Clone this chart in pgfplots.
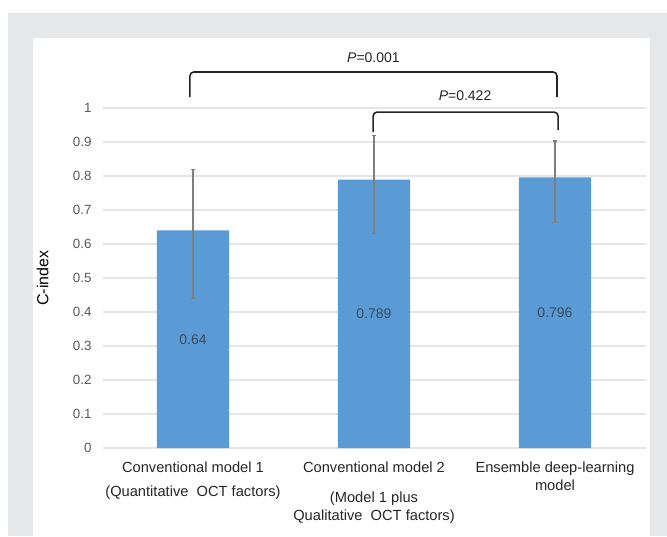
\documentclass[border=0pt]{standalone}
\usepackage{pgfplots}
\pgfplotsset{compat=1.18}
\usepackage{fontspec}
\setmainfont{Liberation Sans}
\definecolor{bggray}{HTML}{E6E7E8}
\definecolor{barblue}{HTML}{5B9BD5}
\definecolor{errgray}{HTML}{7F7F7F}
\definecolor{gridc}{HTML}{E6E6E6}
\definecolor{tickc}{HTML}{595959}
\definecolor{labc}{HTML}{262626}
\definecolor{vallab}{HTML}{3A4A5C}
\begin{document}
\begin{tikzpicture}
\useasboundingbox (0,0) rectangle (500.25pt,402pt);
\fill[white] (0,0) rectangle (500.25pt,402pt);
\fill[bggray] (6pt,0) rectangle (500.25pt,392.25pt);
\fill[white] (24.75pt,0) rectangle (487.5pt,373.5pt);
\begin{axis}[
  at={(76.875pt,66pt)}, anchor=south west,
  width=407.25pt, height=255pt, scale only axis,
  xmin=-0.5, xmax=2.5, ymin=0, ymax=1,
  clip=false,
  axis line style={draw=none},
  major tick length=0pt,
  ytick={0,0.1,0.2,0.3,0.4,0.5,0.6,0.7,0.8,0.9,1},
  yticklabels={0,0.1,0.2,0.3,0.4,0.5,0.6,0.7,0.8,0.9,1},
  ymajorgrids, grid style={gridc, line width=0.8pt},
  yticklabel style={font=\fontsize{10}{12}\selectfont, text=tickc, xshift=-4.75pt},
  xtick={0,1,2},
  xticklabels={{Conventional model 1\\[5pt](Quantitative\ \ OCT factors)},
               {Conventional model 2\\[9pt](Model 1 plus\\[0.5pt]Qualitative\ \ OCT factors)},
               {Ensemble deep-learning\\[0pt]model}},
  xticklabel style={font=\fontsize{11}{13.5}\selectfont, text=labc, align=center, yshift=-6.5pt},
  ylabel={C-index},
  ylabel style={at={(axis description cs:-0.11,0.5)}, anchor=center, font=\fontsize{12}{14}\selectfont, text=black},
]
\addplot[ybar, bar width=0.4, fill=barblue, draw=none,
  error bars/.cd, y dir=both, y explicit,
  error bar style={errgray, line width=1.1pt},
  error mark options={rotate=90, errgray, mark size=1.2pt, line width=0.8pt}]
  coordinates {
  (0,0.640) += (0,0.180) -= (0,0.200)
  (1,0.789) += (0,0.131) -= (0,0.157)
  (2,0.796) += (0,0.107) -= (0,0.134)
};
\addplot[ybar, bar width=0.4, draw=none, fill=none, forget plot,
  visualization depends on={y \as \rawy},
  nodes near coords={\pgfmathprintnumber[precision=3, assume math mode=true]{\pgfplotspointmeta}},
  every node near coord/.append style={anchor=center, yshift=-\rawy*127.5pt, font=\fontsize{10.5}{12}\selectfont, text=vallab}]
  coordinates {(0,0.640) (1,0.789) (2,0.796)};
\draw[black!85, line width=1.2pt, rounded corners=3pt]
  (axis cs:-0.017,1.032) -- (axis cs:-0.017,1.106) -- (axis cs:2.011,1.106) -- (axis cs:2.011,1.032);
\draw[black!85, line width=1.2pt, rounded corners=3pt]
  (axis cs:0.995,0.929) -- (axis cs:0.995,0.988) -- (axis cs:2.017,0.988) -- (axis cs:2.017,0.935);
\node[font=\fontsize{10.5}{12}\selectfont, text=labc] at (axis cs:0.997,1.147) {\textit{P}=0.001};
\node[font=\fontsize{10.5}{12}\selectfont, text=labc] at (axis cs:1.503,1.035) {\textit{P}=0.422};
\end{axis}
\end{tikzpicture}
\end{document}
